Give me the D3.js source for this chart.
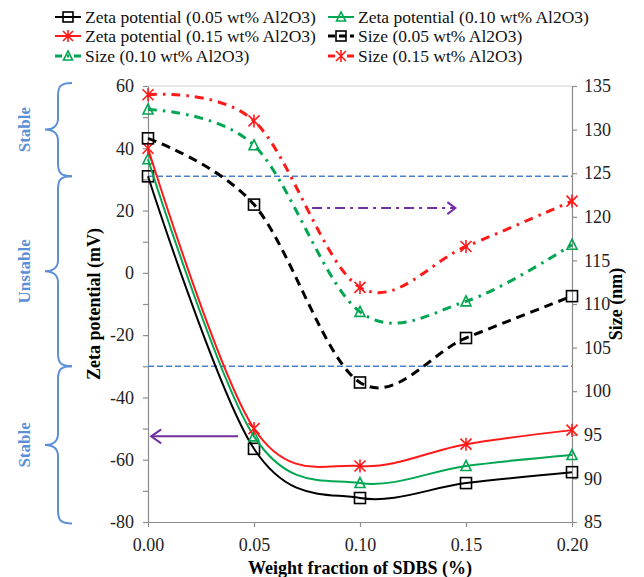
<!DOCTYPE html>
<html><head><meta charset="utf-8">
<script src="https://cdn.jsdelivr.net/npm/d3@7"></script>
<style>body{margin:0;background:#fff}svg{display:block}</style>
</head><body><svg id="c" width="644" height="577"></svg>
<script>
// ---- data ----
const xVals = [0, 0.05, 0.10, 0.15, 0.20];
const zeta005 = [31, -56.5, -72.3, -67.5, -64];
const zeta010 = [36.5, -52.5, -67.5, -62, -58.5];
const zeta015 = [40, -50, -62, -55, -50.5];
const size005 = [129, 121.4, 101, 106.1, 110.9];
const size010 = [132.3, 128.2, 109.1, 110.3, 116.8];
const size015 = [134, 131, 111.9, 116.6, 121.8];
const xTicks = [0, 0.05, 0.10, 0.15, 0.20];
const zetaTicks = d3.range(-80, 61, 10);
const sizeTicks = d3.range(85, 136, 5);
const stabilityLimits = [31, -30];           // zeta potential (mV)
const regionLabels = [{t:"Stable", a:61, b:31}, {t:"Unstable", a:31, b:-30}, {t:"Stable", a:-30, b:-80.5}];
const legendLabels = ["Zeta potential (0.05 wt% Al2O3)", "Zeta potential (0.10 wt% Al2O3)",
  "Zeta potential (0.15 wt% Al2O3)", "Size (0.05 wt% Al2O3)", "Size (0.10 wt% Al2O3)", "Size (0.15 wt% Al2O3)"];

const FF = "'Liberation Serif', 'Times New Roman', serif";
const svg = d3.select("#c");
const L = 148, R = 572, T = 86, B = 522;
const x = d3.scaleLinear().domain([0, 0.2]).range([L, R]);
const yZ = d3.scaleLinear().domain([-80, 60]).range([B, T]);
const yS = d3.scaleLinear().domain([85, 135]).range([B, T]);
const AX = "#8c8c8c";
const RED = "#ff1a1a", GREEN = "#00a651", BLACK = "#000";

// border top
svg.append("line").attr("x1", L).attr("x2", R).attr("y1", T).attr("y2", T).attr("stroke", "#d0d0d0").attr("stroke-width", 1.2);

// axes
const gL = svg.append("g").attr("transform", `translate(${L},0)`)
  .call(d3.axisLeft(yZ).tickValues(zetaTicks).tickSize(5).tickSizeOuter(0)
    .tickFormat(d => d % 20 === 0 ? d : ""));
const gR = svg.append("g").attr("transform", `translate(${R},0)`)
  .call(d3.axisRight(yS).tickValues(sizeTicks).tickSize(5).tickSizeOuter(0));
const gB = svg.append("g").attr("transform", `translate(0,${B})`)
  .call(d3.axisBottom(x).tickValues(xTicks).tickSize(5).tickSizeOuter(0).tickFormat(d3.format(".2f")));
[gL, gR, gB].forEach(g => {
  g.attr("font-family", null).attr("font-size", null);
  g.selectAll("path,line").attr("stroke", AX).attr("stroke-width", 1.2);
  g.selectAll("text").attr("fill", "#222").style("font-size", "18px").style("font-family", FF);
});
gL.selectAll("text").attr("x", -14);
gR.selectAll("text").attr("x", 12);
gB.selectAll("text").attr("y", 16);

function txt(sel) { return sel.style("font-family", FF); }

// axis titles
txt(svg.append("text")).attr("transform", `translate(100,${(T + B) / 2}) rotate(-90)`).attr("text-anchor", "middle")
  .style("font-size", "18px").style("font-weight", "bold").text("Zeta potential (mV)");
txt(svg.append("text")).attr("transform", `translate(622,${(T + B) / 2}) rotate(-90)`).attr("text-anchor", "middle")
  .style("font-size", "18px").style("font-weight", "bold").text("Size (nm)");
txt(svg.append("text")).attr("x", (L + R) / 2).attr("y", 574).attr("text-anchor", "middle")
  .style("font-size", "18px").style("font-weight", "bold").text("Weight fraction of SDBS (%)");

// stability limit lines
svg.selectAll(".lim").data(stabilityLimits).enter().append("line")
  .attr("x1", L).attr("x2", R).attr("y1", d => yZ(d)).attr("y2", d => yZ(d))
  .attr("stroke", "#4a7fd0").attr("stroke-width", 1.4).attr("stroke-dasharray", "6,3");

// braces + labels
const BL = "#5b8fd6";
regionLabels.forEach(r => {
  const y0 = yZ(r.a), y1 = yZ(r.b), m = (y0 + y1) / 2;
  const sx = 58, tx = 72, cx = 45;
  const p = `M${tx},${y0} C${sx + 3},${y0} ${sx},${y0 + 3} ${sx},${y0 + 13} L${sx},${m - 11} C${sx},${m - 3} ${sx - 6},${m} ${cx},${m}` +
    ` C${sx - 6},${m} ${sx},${m + 3} ${sx},${m + 11} L${sx},${y1 - 13} C${sx},${y1 - 3} ${sx + 3},${y1} ${tx},${y1}`;
  svg.append("path").attr("d", p).attr("fill", "none").attr("stroke", BL).attr("stroke-width", 2);
  txt(svg.append("text")).attr("transform", `translate(30,${m}) rotate(-90)`).attr("text-anchor", "middle")
    .attr("fill", BL).style("font-size", "17px").style("font-weight", "bold").text(r.t);
});

// markers
function marker(g, type, cx, cy, color, s) {
  if (type === "square") {
    g.append("rect").attr("x", cx - s / 2).attr("y", cy - s / 2).attr("width", s).attr("height", s)
      .attr("fill", "none").attr("stroke", color).attr("stroke-width", 1.6);
  } else if (type === "tri") {
    const h = s * 0.9;
    g.append("path").attr("d", `M${cx},${cy - h / 2 - 1} L${cx + s / 2},${cy + h / 2} L${cx - s / 2},${cy + h / 2} Z`)
      .attr("fill", "none").attr("stroke", color).attr("stroke-width", 1.6);
  } else {
    const r = s / 2;
    g.append("path").attr("d", `M${cx - r},${cy - r} L${cx + r},${cy + r} M${cx - r},${cy + r} L${cx + r},${cy - r} M${cx},${cy - r - 1} L${cx},${cy + r + 1}`)
      .attr("fill", "none").attr("stroke", color).attr("stroke-width", 1.6);
  }
}

const series = [
  {vals: zeta005, y: yZ, color: BLACK, m: "square", dash: null, w: 2},
  {vals: zeta010, y: yZ, color: GREEN, m: "tri", dash: null, w: 2},
  {vals: zeta015, y: yZ, color: RED, m: "star", dash: null, w: 2},
  {vals: size005, y: yS, color: BLACK, m: "square", dash: "9,6", w: 3},
  {vals: size010, y: yS, color: GREEN, m: "tri", dash: "9,6,2.5,6", w: 3},
  {vals: size015, y: yS, color: RED, m: "star", dash: "9,6,2.5,6", w: 3}
];
const msize = {square: 11, tri: 10, star: 11};
series.forEach(s => {
  const line = d3.line().x((d, i) => x(xVals[i])).y(d => s.y(d)).curve(d3.curveCardinal.tension(0));
  svg.append("path").datum(s.vals).attr("d", line).attr("fill", "none").attr("stroke", s.color)
    .attr("stroke-width", s.w).attr("stroke-dasharray", s.dash);
  const g = svg.append("g");
  s.vals.forEach((v, i) => marker(g, s.m, x(xVals[i]), s.y(v), s.color, msize[s.m]));
});

// arrows
const PU = "#7030a0";
const ay = yZ(-52.5);
svg.append("line").attr("x1", x(0.0425)).attr("x2", x(0.0015)).attr("y1", ay).attr("y2", ay).attr("stroke", PU).attr("stroke-width", 2);
svg.append("path").attr("d", `M${x(0.0015) + 10},${ay - 7} L${x(0.0015)},${ay} L${x(0.0015) + 10},${ay + 7}`).attr("fill", "none").attr("stroke", PU).attr("stroke-width", 2);
const by = yS(121);
svg.append("line").attr("x1", x(0.0774)).attr("x2", x(0.145)).attr("y1", by).attr("y2", by).attr("stroke", PU).attr("stroke-width", 2).attr("stroke-dasharray", "10,5,3,5");
svg.append("path").attr("d", `M${x(0.145) - 8},${by - 6} L${x(0.145)},${by} L${x(0.145) - 8},${by + 6}`).attr("fill", "none").attr("stroke", PU).attr("stroke-width", 2);

// legend
const legPos = [[55, 17], [328, 17], [55, 36], [328, 36], [55, 56], [328, 56]];
series.forEach((s, i) => {
  const [lx, ly] = legPos[i];
  const g = svg.append("g");
  g.append("line").attr("x1", lx).attr("x2", lx + 26).attr("y1", ly).attr("y2", ly).attr("stroke", s.color)
    .attr("stroke-width", s.w).attr("stroke-dasharray", s.dash ? (i === 3 ? "7,4" : "7,5,2,5") : null);
  marker(g, s.m, lx + 13, ly, s.color, msize[s.m] - 1);
  txt(g.append("text")).attr("x", lx + 30).attr("y", ly + 6).style("font-size", "17.5px").attr("fill", "#111").text(legendLabels[i]);
});
</script></body></html>
